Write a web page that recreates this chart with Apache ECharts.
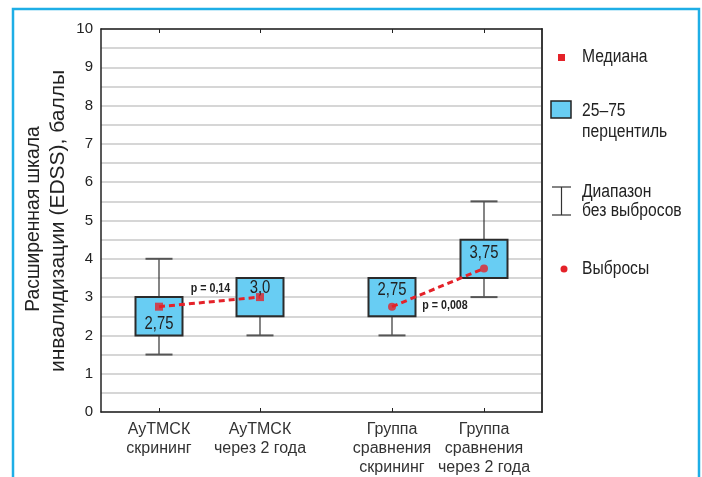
<!DOCTYPE html>
<html><head><meta charset="utf-8">
<script src="https://cdn.jsdelivr.net/npm/echarts@6/dist/echarts.min.js"></script>
<style>html,body{margin:0;padding:0;background:#fff}#c{width:702px;height:477px}</style>
</head><body><div id="c"></div>
<script>
// ---------- DATA ----------
const categories = ['АуТМСК\nскрининг', 'АуТМСК\nчерез 2 года', 'Группа\nсравнения\nскрининг', 'Группа\nсравнения\nчерез 2 года'];
const xPositions = [5.8, 15.9, 29.1, 38.3];   // category positions on the x scale (0..44.1)
const whiskerLow = [1.5, 2.0, 2.0, 3.0];
const q1 = [2.0, 2.5, 2.5, 3.5];
const medians = [2.75, 3.0, 2.75, 3.75];
const q3 = [3.0, 3.5, 3.5, 4.5];
const whiskerHigh = [4.0, 3.5, 3.5, 5.5];
const medianLabels = ['2,75', '3,0', '2,75', '3,75'];
const markerKinds = ['median', 'median', 'outlier', 'outlier'];
const pairs = [[0, 1], [2, 3]];
const pValues = ['p = 0,14', 'p = 0,008'];
const yMin = 0, yMax = 10;
const legendLabels = ['Медиана', '25–75', 'перцентиль', 'Диапазон', 'без выбросов', 'Выбросы'];
const yTitleLines = ['Расширенная шкала', 'инвалидизации (EDSS), баллы'];

// ---------- STYLE ----------
const REG = '"Liberation Sans", Arial, sans-serif';
const RED = '#e42229';
const BOXFILL = '#68cdf3';
const TXT = '#222';
const labelDy = [17, -9, -17, -16];
const pOffsets = [[1, -13], [7, 18]];
const LEG_SCALE = 0.87;

const chart = echarts.init(document.getElementById('c'));

function catFor(v) {
  let best = 0;
  xPositions.forEach((p, i) => { if (Math.abs(p - v) < Math.abs(xPositions[best] - v)) best = i; });
  return categories[best];
}

const boxData = xPositions.map((x, i) => [x, whiskerLow[i], q1[i], medians[i], q3[i], whiskerHigh[i], i]);

const lineSeries = pairs.map(([a, b]) => ({
  type: 'line', xAxisIndex: 0, yAxisIndex: 0, symbol: 'none', silent: true, z: 3,
  data: [[xPositions[a], medians[a]], [xPositions[b], medians[b]]],
  lineStyle: { color: RED, width: 3, type: [6, 4] }
}));

function legText(i, x, y) {
  return { type: 'text', x: x, y: y, scaleX: LEG_SCALE,
    style: { text: legendLabels[i], fill: TXT, font: '18px ' + REG, verticalAlign: 'middle' } };
}

const option = {
  animation: false,
  backgroundColor: '#fff',
  grid: { left: 101, top: 29, width: 441, height: 384, containLabel: false },
  xAxis: [
    {
      type: 'value', position: 'bottom', min: 0, max: 44.1,
      axisLine: { show: true, onZero: false, lineStyle: { color: '#222', width: 1.5 } },
      axisTick: { show: true, inside: true, length: 4, customValues: xPositions, lineStyle: { color: '#222', width: 1 } },
      axisLabel: {
        show: true, customValues: xPositions, formatter: v => catFor(v),
        color: '#333', fontFamily: REG, fontSize: 16, lineHeight: 19, margin: 8, verticalAlign: 'top'
      },
      splitLine: { show: false }
    },
    {
      type: 'value', position: 'top', min: 0, max: 44.1,
      axisLine: { show: true, onZero: false, lineStyle: { color: '#222', width: 1.5 } },
      axisTick: { show: true, inside: true, length: 4, customValues: xPositions, lineStyle: { color: '#222', width: 1 } },
      axisLabel: { show: false },
      splitLine: { show: false }
    }
  ],
  yAxis: [
    {
      type: 'value', position: 'left', min: yMin, max: yMax, interval: 0.5,
      axisLine: { show: true, onZero: false, lineStyle: { color: '#222', width: 1.5 } },
      axisTick: { show: false },
      axisLabel: {
        formatter: v => (Number.isInteger(v) ? String(v) : ''),
        color: TXT, fontFamily: REG, fontSize: 15, margin: 8
      },
      splitLine: { show: true, lineStyle: { color: '#c8c8c8', width: 1.5 } }
    },
    {
      type: 'value', position: 'right', min: yMin, max: yMax, interval: 1,
      axisLine: { show: true, onZero: false, lineStyle: { color: '#3a3a3a', width: 2 } },
      axisTick: { show: false }, axisLabel: { show: false }, splitLine: { show: false }
    }
  ],
  series: [
    {
      type: 'custom', xAxisIndex: 0, yAxisIndex: 0, z: 2, silent: true,
      data: boxData,
      encode: { x: 0, y: [1, 2, 3, 4, 5] },
      renderItem: (params, api) => {
        const x = api.value(0);
        const pLow = api.coord([x, api.value(1)]);
        const pQ1 = api.coord([x, api.value(2)]);
        const pQ3 = api.coord([x, api.value(4)]);
        const pHigh = api.coord([x, api.value(5)]);
        const cx = pLow[0];
        const hw = 23.5, cw = 13.5;
        const wStyle = { stroke: '#333', lineWidth: 1.2 };
        const cStyle = { stroke: '#555', lineWidth: 2 };
        const ch = [];
        if (api.value(1) < api.value(2)) {
          ch.push({ type: 'line', shape: { x1: cx, y1: pLow[1], x2: cx, y2: pQ1[1] }, style: wStyle });
          ch.push({ type: 'line', shape: { x1: cx - cw, y1: pLow[1], x2: cx + cw, y2: pLow[1] }, style: cStyle });
        }
        if (api.value(5) > api.value(4)) {
          ch.push({ type: 'line', shape: { x1: cx, y1: pHigh[1], x2: cx, y2: pQ3[1] }, style: wStyle });
          ch.push({ type: 'line', shape: { x1: cx - cw, y1: pHigh[1], x2: cx + cw, y2: pHigh[1] }, style: cStyle });
        }
        ch.push({ type: 'rect', shape: { x: cx - hw, y: pQ3[1], width: 2 * hw, height: pQ1[1] - pQ3[1] },
          style: { fill: BOXFILL, stroke: '#2b2b2b', lineWidth: 2 } });
        return { type: 'group', children: ch };
      }
    },
    ...lineSeries,
    {
      type: 'scatter', xAxisIndex: 0, yAxisIndex: 0, z: 4, silent: true,
      data: xPositions.map((x, i) => ({
        value: [x, medians[i]],
        symbol: markerKinds[i] === 'median' ? 'rect' : 'circle',
        symbolSize: 8
      })),
      itemStyle: { color: RED }
    },
    {
      type: 'custom', xAxisIndex: 0, yAxisIndex: 0, z: 5, silent: true,
      data: xPositions.map((x, i) => [x, medians[i], i]),
      renderItem: (params, api) => {
        const i = api.value(2);
        const p = api.coord([api.value(0), api.value(1)]);
        return { type: 'text', x: p[0], y: p[1] + labelDy[i], scaleX: 0.78,
          style: { text: medianLabels[i], fill: TXT, font: '19px ' + REG, align: 'center', verticalAlign: 'middle' } };
      }
    },
    {
      type: 'custom', xAxisIndex: 0, yAxisIndex: 0, z: 5, silent: true,
      data: pairs.map(([a, b], k) => [xPositions[a], medians[a], xPositions[b], medians[b], k]),
      renderItem: (params, api) => {
        const k = api.value(4);
        const p1 = api.coord([api.value(0), api.value(1)]);
        const p2 = api.coord([api.value(2), api.value(3)]);
        return { type: 'text', x: (p1[0] + p2[0]) / 2 + pOffsets[k][0], y: (p1[1] + p2[1]) / 2 + pOffsets[k][1], scaleX: 0.82,
          style: { text: pValues[k], fill: TXT, font: 'bold 13px ' + REG, align: 'center', verticalAlign: 'middle' } };
      }
    }
  ],
  graphic: [
    { type: 'rect', silent: true, shape: { x: 13, y: 9, width: 686, height: 520 },
      style: { fill: 'none', stroke: '#1eaee6', lineWidth: 2.5 }, z: 0 },
    { type: 'text', x: 33, y: 219, rotation: Math.PI / 2, scaleX: 0.92,
      style: { text: yTitleLines[0], fill: TXT, font: '21px ' + REG, align: 'center', verticalAlign: 'middle' } },
    { type: 'text', x: 58, y: 221, rotation: Math.PI / 2, scaleX: 1.0,
      style: { text: yTitleLines[1], fill: TXT, font: '21px ' + REG, align: 'center', verticalAlign: 'middle' } },
    { type: 'rect', shape: { x: 558, y: 54, width: 7, height: 7 }, style: { fill: RED } },
    legText(0, 582, 57),
    { type: 'rect', shape: { x: 551, y: 101, width: 20, height: 17 }, style: { fill: BOXFILL, stroke: '#222', lineWidth: 1.5 } },
    legText(1, 582, 111),
    legText(2, 582, 132),
    { type: 'line', shape: { x1: 552, y1: 187, x2: 571, y2: 187 }, style: { stroke: '#333', lineWidth: 1.2 } },
    { type: 'line', shape: { x1: 561.5, y1: 187, x2: 561.5, y2: 215 }, style: { stroke: '#333', lineWidth: 1.2 } },
    { type: 'line', shape: { x1: 552, y1: 215, x2: 571, y2: 215 }, style: { stroke: '#333', lineWidth: 1.2 } },
    legText(3, 582, 192),
    legText(4, 582, 211),
    { type: 'circle', shape: { cx: 564, cy: 269, r: 3.5 }, style: { fill: RED } },
    legText(5, 582, 269)
  ]
};
chart.setOption(option);
</script>
</body></html>
